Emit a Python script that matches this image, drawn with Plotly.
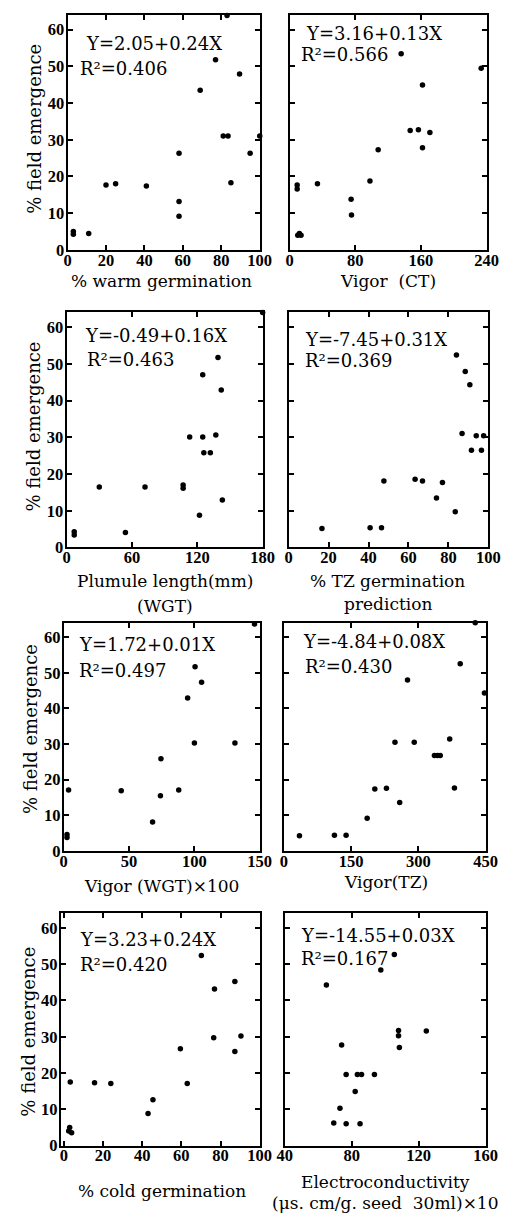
import plotly.graph_objects as go

W, H = 511, 1220

# ---------------- data ----------------
warm_x = [3, 3, 11, 20, 25, 41, 58, 58, 58, 69, 77, 83, 81, 83.5, 85, 89.5, 95, 100]
warm_y = [5, 4.3, 4.5, 17.7, 18, 17.4, 26.3, 13.2, 9.2, 43.5, 51.8, 63.8, 31, 31, 18.3, 47.9, 26.3, 31]

ct_x = [10, 12, 14, 9.3, 9.3, 34, 75, 75.5, 98, 108, 136, 147, 157, 171, 162, 162, 190, 233.5]
ct_y = [4, 4.5, 4, 17.7, 16.6, 18, 13.8, 9.5, 18.8, 27.3, 53.4, 32.5, 32.7, 32, 27.8, 44.9, 64.3, 49.5]

plum_x = [7, 7, 30, 54, 72, 107, 107, 113, 125, 122, 125, 126, 132, 137, 139, 142, 143, 180]
plum_y = [4.3, 3.4, 16.5, 4.1, 16.5, 17, 16.1, 30.1, 30.1, 8.8, 47, 25.8, 25.8, 30.6, 51.7, 42.9, 12.9, 64]

tz_x = [16.7, 40.8, 46.5, 47.7, 63.3, 67, 77, 74, 83.4, 84, 86.8, 87.1, 88.4, 90.7, 91.5, 93.9, 97.6, 96.5]
tz_y = [5.2, 5.4, 5.4, 18.1, 18.6, 18.1, 17.7, 13.5, 9.7, 52.4, 31, 64.4, 47.9, 44.3, 26.5, 30.4, 30.4, 26.5]

wgt_x = [2.5, 2.5, 3.7, 44, 68, 74, 74.4, 88, 94.8, 100.5, 100, 105.5, 131, 146]
wgt_y = [4.6, 3.8, 17.1, 16.9, 8.1, 15.5, 25.9, 17.1, 42.9, 51.7, 30.3, 47.3, 30.3, 63.7]

vtz_x = [35, 113, 139, 186, 203, 229, 258.5, 248, 291, 276, 336, 343, 349, 370, 380.6, 393.5, 427, 447.5]
vtz_y = [4.3, 4.4, 4.4, 9.2, 17.4, 17.6, 13.6, 30.5, 30.5, 48, 26.8, 26.8, 26.8, 31.4, 17.7, 52.5, 64, 44.3]

cold_x = [3, 2.5, 4, 3.3, 15.7, 24, 43, 45.5, 59.5, 63, 70.2, 76.9, 76.5, 87.3, 87.3, 90.4, 79.3]
cold_y = [5, 4, 3.5, 17.5, 17.3, 17.1, 8.8, 12.6, 26.7, 17.1, 52.4, 43.2, 29.7, 45.2, 25.9, 30.2, 64.2]

ec_x = [69.3, 76.7, 85, 73, 82.1, 76.7, 83.4, 85.9, 93.6, 74, 64.9, 97.4, 105.5, 108, 108, 108.5, 124.6, 148]
ec_y = [6.2, 6, 6, 10.3, 14.9, 19.6, 19.6, 19.6, 19.6, 27.7, 44.3, 48.4, 52.7, 31.7, 30.3, 27, 31.6, 64.9]

series = [(warm_x, warm_y), (ct_x, ct_y), (plum_x, plum_y), (tz_x, tz_y),
          (wgt_x, wgt_y), (vtz_x, vtz_y), (cold_x, cold_y), (ec_x, ec_y)]

equations = ["Y=2.05+0.24X", "Y=3.16+0.13X", "Y=-0.49+0.16X", "Y=-7.45+0.31X",
             "Y=1.72+0.01X", "Y=-4.84+0.08X", "Y=3.23+0.24X", "Y=-14.55+0.03X"]
r2_labels = ["R²=0.406", "R²=0.566", "R²=0.463", "R²=0.369",
             "R²=0.497", "R²=0.430", "R²=0.420", "R²=0.167"]

x_titles = [["% warm germination"], ["Vigor  (CT)"],
            ["Plumule length(mm)", "(WGT)"], ["% TZ germination", "prediction"],
            ["Vigor (WGT)×100"], ["Vigor(TZ)"],
            ["% cold germination"], ["Electroconductivity", "(μs. cm/g. seed  30ml)×10"]]

x_ranges = [[0, 100], [0, 240], [0, 180], [0, 100], [0, 150], [0, 450], [-1.5, 100], [40, 160]]
x_ticks = [[0, 20, 40, 60, 80, 100], [0, 80, 160, 240], [0, 60, 120, 180],
           [0, 20, 40, 60, 80, 100], [0, 50, 100, 150], [0, 150, 300, 450],
           [0, 20, 40, 60, 80, 100], [40, 80, 120, 160]]
y_ticks = [0, 10, 20, 30, 40, 50, 60]
y_range = [0, 64]
y_title = "% field emergence"

# ---------------- layout geometry (pixels) ----------------
boxes = [
    (62, 262, 15, 252), (293, 498, 15, 252),
    (61, 265, 315, 552), (292, 500, 315, 552),
    (58, 262, 628, 858), (287, 497, 628, 858),
    (55, 262, 921, 1155), (288, 497, 921, 1155),
]
eq_pos = [(79, 44, 73, 69), (308, 34, 303, 55), (78, 338, 80, 362), (307, 342, 307, 363),
          (72, 650, 72, 676), (305, 647, 307, 672), (73, 947, 73, 972), (303, 943, 303, 966)]
title_pos = [(160, 283, 24), (395, 283, 24), (163, 586, 25), (395, 586, 23),
             (160, 893, 24), (393, 889, 24), (160, 1201, 22), (393, 1192, 21)]
ytitle_pos = [(28, 130), (26, 430), (24, 735), (21, 1040)]

def fx(px):
    return px / W

def fy(py):
    return 1 - py / H

SERIF = "DejaVu Serif"
TICKFONT = dict(family="Liberation Serif, Times New Roman, serif", size=16.5, color="black", weight="bold")

fig = go.Figure()
annotations = []
layout = {}
for i, ((xs, ys), box) in enumerate(zip(series, boxes)):
    n = "" if i == 0 else str(i + 1)
    x0, x1, y0, y1 = box
    fig.add_trace(go.Scatter(
        x=xs, y=ys, mode="markers", xaxis="x" + n, yaxis="y" + n,
        marker=dict(color="black", size=5.5), cliponaxis=False, showlegend=False,
        hoverinfo="x+y"))
    left = (i % 2 == 0)
    layout["xaxis" + n] = dict(
        domain=[fx(x0), fx(x1)], anchor="y" + n, range=x_ranges[i],
        tickvals=x_ticks[i], ticks="inside", ticklen=5, tickwidth=1.5,
        tickcolor="black", showline=True, linecolor="black", linewidth=2,
        mirror="ticks", showgrid=False, zeroline=False, tickfont=TICKFONT,
        ticklabelstandoff=-6)
    layout["yaxis" + n] = dict(
        domain=[fy(y1), fy(y0)], anchor="x" + n, range=y_range,
        tickvals=y_ticks, ticks="inside", ticklen=5, tickwidth=1.5,
        tickcolor="black", showline=True, linecolor="black", linewidth=2,
        mirror="ticks", showgrid=False, zeroline=False, tickfont=TICKFONT,
        showticklabels=left, ticklabelstandoff=-2)
    ex, ey, rx, ry = eq_pos[i]
    annotations.append(dict(text=equations[i], x=fx(ex), y=fy(ey), xref="paper", yref="paper",
                            xanchor="left", yanchor="middle", showarrow=False,
                            font=dict(family=SERIF, size=18, color="black")))
    annotations.append(dict(text=r2_labels[i], x=fx(rx), y=fy(ry), xref="paper", yref="paper",
                            xanchor="left", yanchor="middle", showarrow=False,
                            font=dict(family=SERIF, size=18, color="black")))
    tx, ty, gap = title_pos[i]
    for k, line in enumerate(x_titles[i]):
        annotations.append(dict(text=line, x=fx(tx), y=fy(ty + k * gap), xref="paper", yref="paper",
                                xanchor="center", yanchor="middle", showarrow=False,
                                font=dict(family=SERIF, size=17, color="black")))

for (yx, yy) in ytitle_pos:
    annotations.append(dict(text=y_title, x=fx(yx), y=fy(yy), xref="paper", yref="paper",
                            xanchor="center", yanchor="middle", textangle=-90, showarrow=False,
                            font=dict(family=SERIF, size=18, color="black")))

fig.update_layout(
    width=W, height=H, margin=dict(l=0, r=0, t=0, b=0),
    paper_bgcolor="white", plot_bgcolor="white",
    annotations=annotations, **layout)

fig.write_html("out.html", config={"displayModeBar": False},
               post_script="document.body.style.margin='0';document.body.style.overflow='hidden';")
